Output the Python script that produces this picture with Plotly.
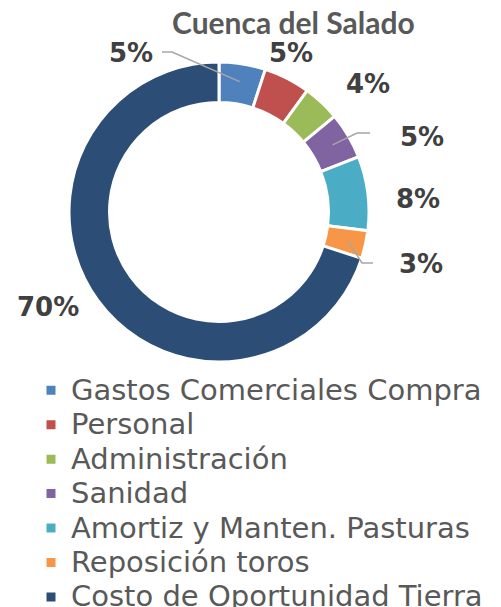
import math
import plotly.graph_objects as go

# ---- data ----
categories = ["Gastos Comerciales Compra", "Personal", "Administración", "Sanidad",
              "Amortiz y Manten. Pasturas", "Reposición toros", "Costo de Oportunidad Tierra"]
values = [5, 5, 4, 5, 8, 3, 70]
label_texts = ["5%", "5%", "4%", "5%", "8%", "3%", "70%"]
title_text = "Cuenca del Salado"

# ---- style / layout ----
colors = ["#4F81BD", "#C0504D", "#9BBB59", "#8064A2", "#4BACC6", "#F79646", "#2C4D75"]
W, H = 501, 607          # window size
OFF = 8                  # page body margin the figure div sits inside
FW, FH = W - OFF, H - OFF
CX, CY, R = 219, 212, 150          # donut centre / radius in window px
HOLE = 0.73
# label centre positions (window px)
label_pos = [(131, 53), (291, 53), (368, 84), (422, 137), (418, 199), (421, 264), (48, 307)]
# leader-line elbows for labels that have one: index -> list of px points after the start
leaders = {0: [(172, 52), (162, 52)], 3: [(357, 133), (370, 133)], 5: [(362, 263), (373, 263)]}


def px(x, y):
    return (x - OFF) / FW, 1 - (y - OFF) / FH


legend_labels = [f"<span style='font-size:29px'>{c}</span>" for c in categories]

x0, y0 = px(CX - R, CY + R)
x1, y1 = px(CX + R, CY - R)
fig = go.Figure(go.Pie(
    labels=legend_labels, values=values, hole=HOLE, sort=False, direction="clockwise",
    rotation=0, textinfo="none", customdata=categories,
    hovertemplate="%{customdata}: %{percent}<extra></extra>",
    marker=dict(colors=colors, line=dict(color="white", width=3)),
    domain=dict(x=[x0, x1], y=[y0, y1]),
))

total = sum(values)
cum = 0
shapes = []
annotations = []
for i, v in enumerate(values):
    mid = (cum + v / 2) / total * 2 * math.pi
    cum += v
    ax, ay = px(*label_pos[i])
    annotations.append(dict(x=ax, y=ay, xref="paper", yref="paper", xanchor="center",
                            yanchor="middle", text=label_texts[i], showarrow=False,
                            font=dict(family="DejaVu Sans", size=26, color="#404040", weight="bold")))
    if i in leaders:
        r = 0.88 * R
        sx, sy = CX + r * math.sin(mid), CY - r * math.cos(mid)
        pts = [(sx, sy)] + leaders[i]
        path = "M " + " L ".join(f"{px(a, b)[0]},{px(a, b)[1]}" for a, b in pts)
        shapes.append(dict(type="path", path=path, xref="paper", yref="paper",
                           line=dict(color="#A6A6A6", width=1.5)))

tx, ty = px(293, 22)
annotations.append(dict(x=tx, y=ty, xref="paper", yref="paper", xanchor="center",
                        yanchor="middle", text=f"<b>{title_text}</b>", showarrow=False,
                        font=dict(family="Lato", size=30, color="#595959")))

lx, ly = px(31, 368)
fig.update_layout(
    width=FW, height=FH, margin=dict(l=0, r=0, t=0, b=0, autoexpand=False),
    paper_bgcolor="white", plot_bgcolor="white",
    showlegend=True,
    legend=dict(x=lx, y=ly, xanchor="left", yanchor="top",
                font=dict(family="DejaVu Sans", size=24.2, color="#595959"),
                bgcolor="rgba(0,0,0,0)", itemwidth=30, tracegroupgap=0),
    shapes=shapes, annotations=annotations,
)

fig.write_html("out.html")
